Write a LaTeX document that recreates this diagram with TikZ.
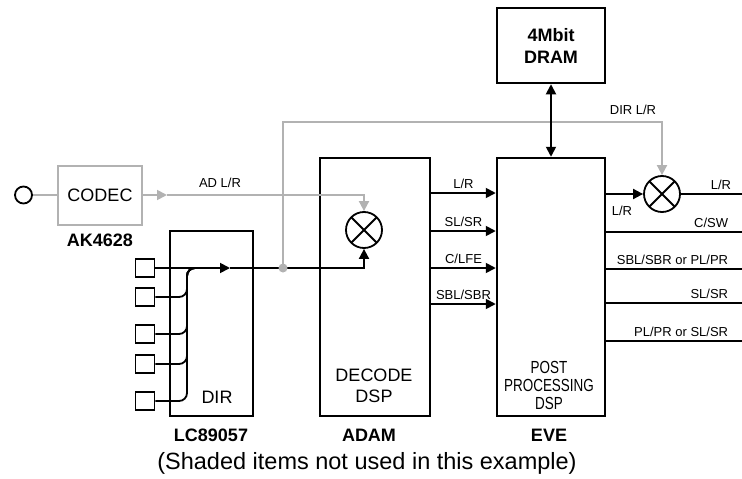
\documentclass[tikz,border=0pt]{standalone}
\usepackage{fontspec}
\setmainfont{Liberation Sans}
\newfontfamily\narrowfont[FakeStretch=0.77]{Liberation Sans}
\usetikzlibrary{arrows.meta}
\tikzset{
    blk/.style={draw,line width=2.5pt,inner sep=0pt},
    unused/.style={draw=black!30,line width=2pt,inner sep=0pt},
    wire/.style={line width=1.8pt},
    graywire/.style={draw=black!30,line width=1.8pt},
    arr/.style={-{Triangle[length=10pt,width=10pt]}},
    mixer/.style={circle,draw,line width=1.8pt,minimum size=36pt,inner sep=0pt,
        path picture={\draw [line width=1.8pt] (path picture bounding box.north west) -- (path picture bounding box.south east)
            (path picture bounding box.north east) -- (path picture bounding box.south west);}},
    big/.style={font=\fontsize{18}{21}\selectfont,align=center},
    chip/.style={font=\fontsize{18}{22}\selectfont\bfseries,align=center},
    sig/.style={font=\fontsize{13}{15}\selectfont,inner sep=1pt},
    port/.style={draw,line width=1.8pt,minimum width=19pt,minimum height=18pt,inner sep=0pt}
}
\begin{document}
\begin{tikzpicture}[x=1pt,y=-1pt]
        \useasboundingbox (0,0) rectangle (742,479);
        \node [unused,minimum width=84pt,minimum height=59pt,big] (codec) at (100,195) {CODEC};
        \node [circle,draw,line width=1.8pt,minimum size=17pt,inner sep=0pt] (jack) at (23.5,195) {};
        \node [chip] (ak) at (100,240) {AK4628};
        \node [blk,minimum width=83pt,minimum height=185pt] (dir) at (211.5,323.5) {};
        \node [big] (dirname) at (217,397) {DIR};
        \node [chip] (lc) at (211,435) {LC89057};
        \node [blk,minimum width=110pt,minimum height=258pt] (decode) at (375,287) {};
        \node [big] (decname) at (374,386) {DECODE\\DSP};
        \node [chip] (adam) at (369,435) {ADAM};
        \node [blk,minimum width=108pt,minimum height=258pt] (eve) at (551,287) {};
        \node [big,font=\narrowfont\fontsize{17.5}{18}\selectfont] (evename) at (549,385) {POST\\PROCESSING\\DSP};
        \node [chip] (evelabel) at (549,435) {EVE};
        \node [blk,minimum width=108pt,minimum height=75pt,chip] (dram) at (551,45.5) {4Mbit\\DRAM};
        \node [mixer] (mixa) at (364,230) {};
        \node [mixer] (mixb) at (662,194) {};
        \foreach \n/\y in {1/268,2/297,3/334,4/364,5/401}
            \node [port] (p\n) at (145,\y) {};
        \node [font=\fontsize{23.5}{26}\selectfont] (note) at (367,463) {(Shaded items not used in this example)};

        \coordinate (adtip) at (167,195);
        \coordinate (dirmid) at (230,268);
        \coordinate (bustop) at (187,268);
        \coordinate (busend) at (205,268);
        \coordinate (tap) at (283,268);
        \coordinate (dirtop) at (283,122);
        \draw [graywire] (jack) -- (codec);
        \draw [graywire,arr] (codec) -- (adtip);
        \draw [graywire,arr] (adtip) -| (mixa.north);
        \node [sig] (adlabel) at (220,183) {AD L/R};
        \draw [graywire,arr] (tap) -- (dirtop) -| (mixb.north);
        \node [sig] (dirlabel) at (633,110) {DIR L/R};
        \draw [wire,arr] (p1.east) -- (dirmid);
        \foreach \n in {2,...,5}
            \draw [wire,rounded corners=8pt] (p\n.east) -| (bustop) -- (busend);
        \draw [wire,arr] (dirmid) -| (mixa.south);
        \fill [black!30] (tap) circle (4.5pt);
        \draw [wire,{Triangle[length=10pt,width=10pt]}-{Triangle[length=10pt,width=10pt]}] (dram.south) -- (eve.north);
        \foreach \y/\t in {193/{L/R},231/{SL/SR},268/{C/LFE},304/{SBL/SBR}}
            \draw [wire,arr] (decode.east |- 0,\y) -- (eve.west |- 0,\y) node [sig,midway,anchor=base,yshift=5pt] {\t};
        \draw [wire,arr] (eve.east |- mixb) -- (mixb.west);
        \node [sig] (lrin) at (622,211) {L/R};
        \coordinate (outlr) at (742,194);
        \draw [wire] (mixb.east) -- (outlr) node [sig,anchor=base east,xshift=-9pt,yshift=5pt] {L/R};
        \foreach \y/\t in {232/{C/SW},269/{SBL/SBR or PL/PR},303/{SL/SR},341/{PL/PR or SL/SR}}
            \draw [wire] (eve.east |- 0,\y) -- (742,\y) node [sig,anchor=base east,xshift=-12pt,yshift=5pt] {\t};
\end{tikzpicture}
\end{document}
